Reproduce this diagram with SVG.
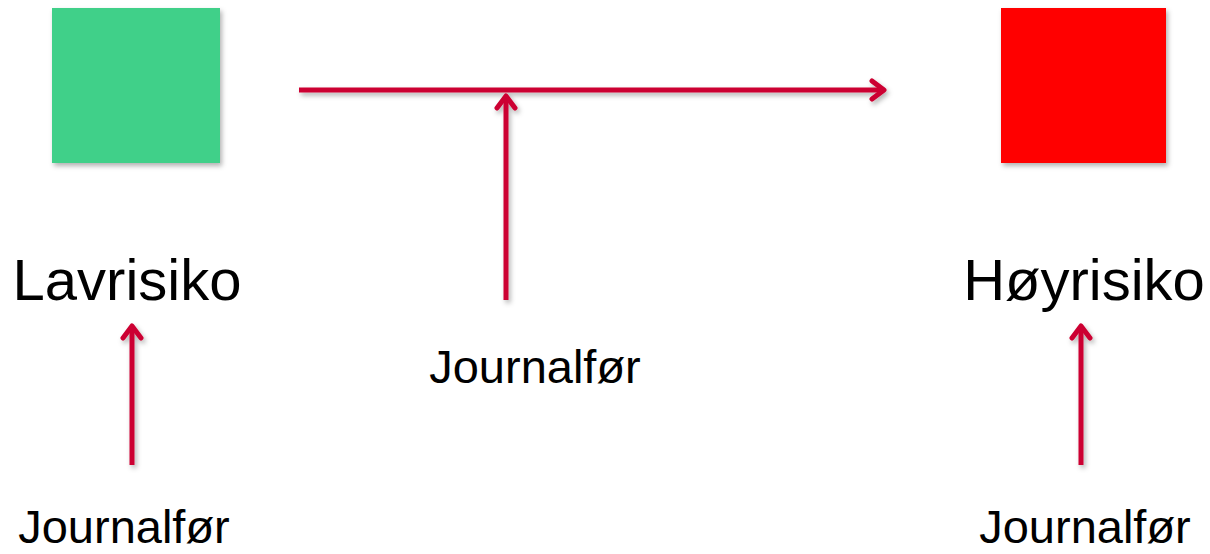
<svg xmlns="http://www.w3.org/2000/svg" width="1210" height="554" viewBox="0 0 1210 554">
<style>
.lbl{font-family:"Liberation Sans",Arial,sans-serif;fill:#000;text-anchor:middle}
.big{font-size:58px}
.sm{font-size:47px}
.conn{stroke:#CC0033;stroke-width:5;fill:none;stroke-linecap:butt}
</style>
<defs>
<filter id="sh" x="-20%" y="-20%" width="140%" height="140%">
<feDropShadow dx="2" dy="3" stdDeviation="2.5" flood-color="#000" flood-opacity="0.3"/>
</filter>
<marker id="ah" viewBox="0 0 18 24" refX="15" refY="12" markerWidth="18" markerHeight="24" markerUnits="userSpaceOnUse" orient="auto">
<polyline points="3,3 15,12 3,21" fill="none" stroke="#CC0033" stroke-width="5" stroke-linecap="round" stroke-linejoin="round"/>
</marker>
</defs>
<rect width="1210" height="554" fill="#fff"/>
<g id="lavrisiko">
<rect x="52" y="8" width="168" height="155" fill="#41D089" filter="url(#sh)"/>
<text class="lbl big" x="127" y="300">Lavrisiko</text>
</g>
<g id="hoyrisiko">
<rect x="1001" y="8" width="165" height="155" fill="#FF0000" filter="url(#sh)"/>
<text class="lbl big" x="1084" y="300">Høyrisiko</text>
</g>
<g id="journalfor-mid">
<text class="lbl sm" x="535" y="383">Journalfør</text>
</g>
<g id="journalfor-left">
<text class="lbl sm" x="124" y="543">Journalfør</text>
</g>
<g id="journalfor-right">
<text class="lbl sm" x="1085" y="543">Journalfør</text>
</g>
<g id="connectors" filter="url(#sh)">
<line class="conn" x1="299" y1="90" x2="884" y2="90" marker-end="url(#ah)"/>
<line class="conn" x1="506" y1="300" x2="506" y2="96" marker-end="url(#ah)"/>
<line class="conn" x1="132" y1="465" x2="132" y2="326" marker-end="url(#ah)"/>
<line class="conn" x1="1081" y1="465" x2="1081" y2="326" marker-end="url(#ah)"/>
</g>
</svg>
